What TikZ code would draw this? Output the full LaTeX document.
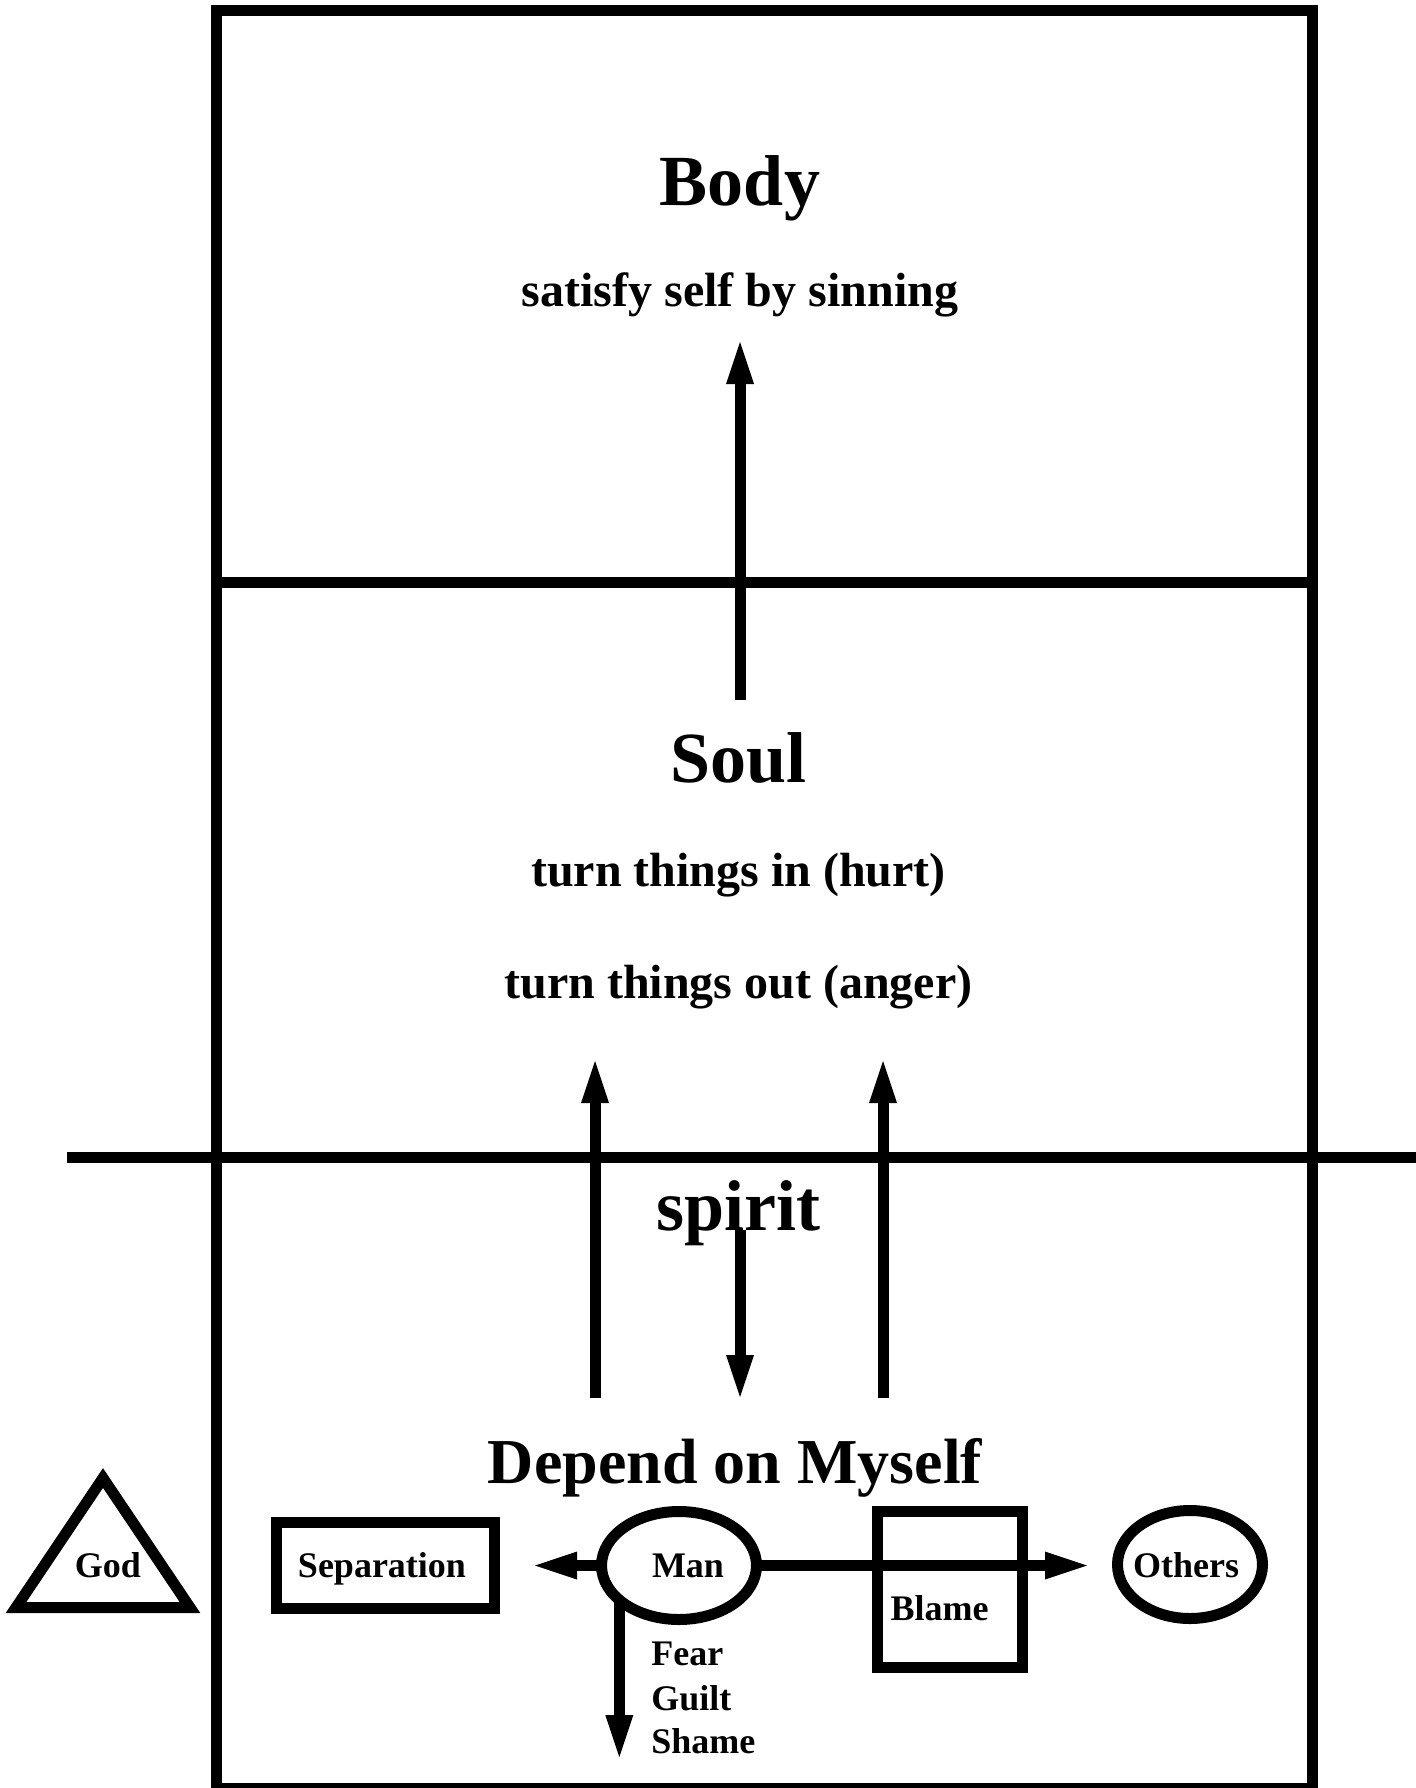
\documentclass[tikz,border=0pt]{standalone}
\usepackage{fontspec}
\setmainfont{Liberation Serif}
\usetikzlibrary{arrows.meta,shapes.geometric}
\begin{document}
\begin{tikzpicture}[x=0.5pt,y=-0.5pt,
  frame/.style={line width=5.5pt, line join=miter},
  arr/.style={line width=5.5pt, -{Triangle[length=21pt,width=14pt,line width=0pt]}},
  heading/.style={font=\bfseries\fontsize{36}{40}\selectfont, anchor=base, inner sep=0pt},
  midhead/.style={font=\bfseries\fontsize{32}{36}\selectfont, anchor=base, inner sep=0pt},
  subtext/.style={font=\bfseries\fontsize{24}{28}\selectfont, anchor=base, inner sep=0pt},
  small/.style={font=\bfseries\fontsize{18}{21}\selectfont, anchor=base, inner sep=0pt},
  oval/.style={draw, ellipse, line width=5.5pt, inner sep=0pt, outer sep=0pt},
  boxshape/.style={draw, rectangle, line width=5.5pt, inner sep=0pt, outer sep=0pt},
]
\useasboundingbox (0,0) rectangle (1416,1788);

% outer frame and dividers
\draw[frame] (216.5,10.7) rectangle (1312,1788);
\draw[frame] (216.5,582.5) -- (1312,582.5);
\draw[frame] (67,1157.5) -- (1416,1157.5);

% Body section
\node[heading] (body) at (740,205) {Body};
\node[subtext] (satisfy) at (740,306) {satisfy self by sinning};

% Soul section
\node[heading] (soul) at (738.5,782) {Soul};
\node[subtext] (turnin) at (738.5,886) {turn things in (hurt)};
\node[subtext] (turnout) at (738.5,998) {turn things out (anger)};

% spirit section
\node[heading] (spirit) at (738,1230) {spirit};
\node[midhead] (depend) at (735,1483) {Depend on Myself};

% vertical arrows
\coordinate (bodyfrom) at (740,700);
\coordinate (bodyto) at (740,342);
\draw[arr] (bodyfrom) -- (bodyto);

\coordinate (upLfrom) at (595,1398);
\coordinate (upLto) at (595,1061);
\draw[arr] (upLfrom) -- (upLto);

\coordinate (upRfrom) at (883,1398);
\coordinate (upRto) at (883,1061);
\draw[arr] (upRfrom) -- (upRto);

\coordinate (downfrom) at (740,1230);
\coordinate (downto) at (740,1397);
\draw[arr] (downfrom) -- (downto);

% bottom row shapes
\draw[frame] (103,1478) -- (16,1607.5) -- (190,1607.5) -- cycle;
\node[small] (god) at (108,1577) {God};

\node[boxshape, minimum width=109pt, minimum height=43pt] (sepbox) at (385.5,1565.5) {};
\node[small] (septext) at (382,1577) {Separation};

\node[boxshape, minimum width=72.5pt, minimum height=78pt] (blamebox) at (950,1589) {};
\node[small] (blametext) at (939.5,1620) {Blame};

\node[oval, minimum width=77.5pt, minimum height=54pt] (man) at (679,1565.5) {};
\node[small] (mantext) at (688,1577) {Man};

\node[oval, minimum width=72.5pt, minimum height=54pt] (others) at (1190,1564.5) {};
\node[small] (otherstext) at (1186,1577) {Others};

% connectors from Man
\coordinate (septip) at (535,1565.5);
\draw[arr] (man.west) -- (septip);

\coordinate (otherstip) at (1087,1565.5);
\draw[arr] (man.east) -- (otherstip);

\path (man.210) coordinate (fgsfrom);
\coordinate (fgsto) at (fgsfrom |- 0,1757);
\draw[arr] (fgsfrom) -- (fgsto);

\node[small, anchor=base west] (fear) at (651,1665) {Fear};
\node[small, anchor=base west] (guilt) at (651,1710) {Guilt};
\node[small, anchor=base west] (shame) at (651,1753) {Shame};
\end{tikzpicture}
\end{document}
